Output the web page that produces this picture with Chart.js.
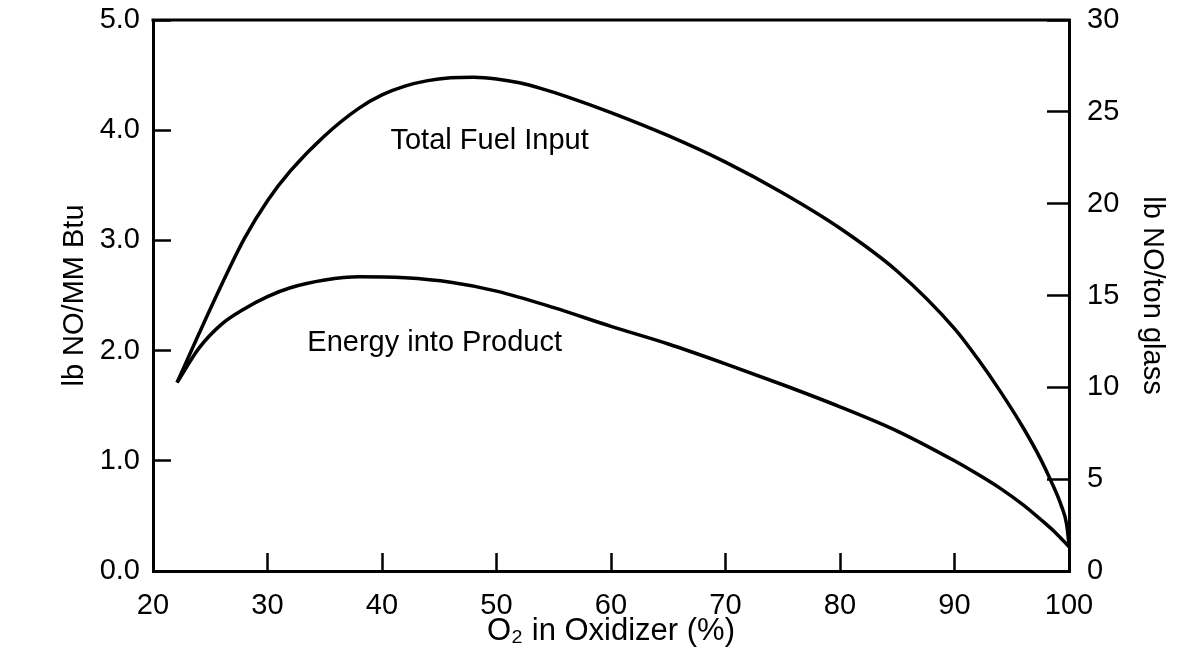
<!DOCTYPE html>
<html>
<head>
<meta charset="utf-8">
<script src="https://cdn.jsdelivr.net/npm/chart.js@4/dist/chart.umd.min.js"></script>
<style>
  html, body { margin: 0; padding: 0; background: #fff; }
</style>
</head>
<body>
<canvas id="grafica" width="1182" height="672"></canvas>
<script>
// O2 in oxidizer (%) and lb NO/MM Btu
const totalX = [22.1, 24, 26, 28, 30, 32, 35, 38, 40, 42, 44, 46, 48, 50, 52, 54, 56, 60, 65, 70, 75, 80, 85, 90, 92, 94, 96, 97.5, 98.5, 99.3, 99.8, 100];
const totalY = [1.71, 2.15, 2.6, 3.02, 3.36, 3.63, 3.95, 4.2, 4.32, 4.4, 4.45, 4.475, 4.48, 4.465, 4.43, 4.375, 4.31, 4.16, 3.95, 3.71, 3.43, 3.11, 2.72, 2.2, 1.93, 1.63, 1.3, 1.02, 0.8, 0.6, 0.42, 0.24];

const energyX = [22.1, 24, 26, 28, 30, 32, 35, 38, 42, 46, 50, 55, 60, 65, 70, 75, 80, 85, 90, 92, 94, 96, 97.5, 98.8, 100];
const energyY = [1.71, 2.02, 2.24, 2.38, 2.49, 2.57, 2.64, 2.67, 2.66, 2.62, 2.54, 2.39, 2.22, 2.06, 1.88, 1.69, 1.49, 1.27, 1.0, 0.88, 0.75, 0.6, 0.47, 0.35, 0.22];

const serieNombres = ['Total Fuel Input', 'Energy into Product'];
// where the curve names sit, in data units (x = % O2, y = lb NO/MM Btu)
const textosX = [49.4, 44.6];
const textosY = [3.9, 2.07];

const fuente = '"Liberation Sans", Arial, Helvetica, sans-serif';
Chart.defaults.font.family = fuente;
Chart.defaults.color = '#000';

function puntos(xs, ys) {
    return xs.map((v, i) => ({ x: v, y: ys[i] }));
}

// fixed box sizes so the plot area lands where the original has it
function anchoFijo(w) {
    return (s) => { s.width = w; s.paddingTop = 0; s.paddingBottom = 0; };
}

const etiquetas = {
    id: 'etiquetas',
    afterDraw(chart) {
        const { ctx, chartArea, scales: { x, y } } = chart;
        ctx.save();
        // top edge of the box
        ctx.strokeStyle = '#000';
        ctx.lineWidth = 3;
        ctx.beginPath();
        ctx.moveTo(chartArea.left - 1.5, chartArea.top);
        ctx.lineTo(chartArea.right + 1.5, chartArea.top);
        ctx.stroke();
        // curve names
        ctx.fillStyle = '#000';
        ctx.font = '29px ' + fuente;
        ctx.textAlign = 'center';
        ctx.textBaseline = 'middle';
        serieNombres.forEach((t, i) => {
            ctx.fillText(t, x.getPixelForValue(textosX[i]), y.getPixelForValue(textosY[i]));
        });
        ctx.restore();
    }
};

new Chart('grafica', {
    type: 'line',
    data: {
        datasets: [{
            label: serieNombres[0],
            data: puntos(totalX, totalY),
            borderColor: '#000',
            borderWidth: 3.5,
            pointRadius: 0,
            cubicInterpolationMode: 'monotone',
            fill: false
        }, {
            label: serieNombres[1],
            data: puntos(energyX, energyY),
            borderColor: '#000',
            borderWidth: 3.5,
            pointRadius: 0,
            cubicInterpolationMode: 'monotone',
            fill: false
        }]
    },
    options: {
        responsive: false,
        animation: false,
        layout: { padding: { top: 20, left: 0, right: 0, bottom: 0 } },
        plugins: {
            legend: { display: false },
            tooltip: { enabled: false }
        },
        scales: {
            x: {
                type: 'linear',
                min: 20,
                max: 100,
                afterFit: (s) => { s.height = 101; s.paddingLeft = 0; s.paddingRight = 0; },
                ticks: { stepSize: 10, padding: 36, font: { size: 29 } },
                grid: { drawOnChartArea: false, tickLength: -18, tickWidth: 2.5, color: '#000' },
                border: { display: true, color: '#000', width: 3 },
                title: {
                    display: true,
                    text: 'O₂ in Oxidizer (%)',
                    font: { size: 31 },
                    padding: { top: 0, bottom: 22 }
                }
            },
            y: {
                position: 'left',
                min: 0,
                max: 5,
                afterFit: anchoFijo(153),
                ticks: {
                    stepSize: 1,
                    padding: 31,
                    font: { size: 29 },
                    callback: (v) => v.toFixed(1)
                },
                grid: { drawOnChartArea: false, tickLength: -18, tickWidth: 2.5, color: '#000' },
                border: { display: true, color: '#000', width: 3 },
                title: {
                    display: true,
                    text: 'lb NO/MM Btu',
                    font: { size: 29 },
                    padding: { top: 58, bottom: 0 }
                }
            },
            y2: {
                position: 'right',
                min: 0,
                max: 30,
                afterFit: anchoFijo(113),
                ticks: { stepSize: 5, padding: 40, font: { size: 29 } },
                grid: { drawOnChartArea: false, tickLength: -22, tickWidth: 2.5, color: '#000' },
                border: { display: true, color: '#000', width: 3 },
                title: {
                    display: true,
                    text: 'lb NO/ton glass',
                    font: { size: 29 },
                    padding: { top: 13, bottom: 0 }
                }
            }
        }
    },
    plugins: [etiquetas]
});
</script>
</body>
</html>
